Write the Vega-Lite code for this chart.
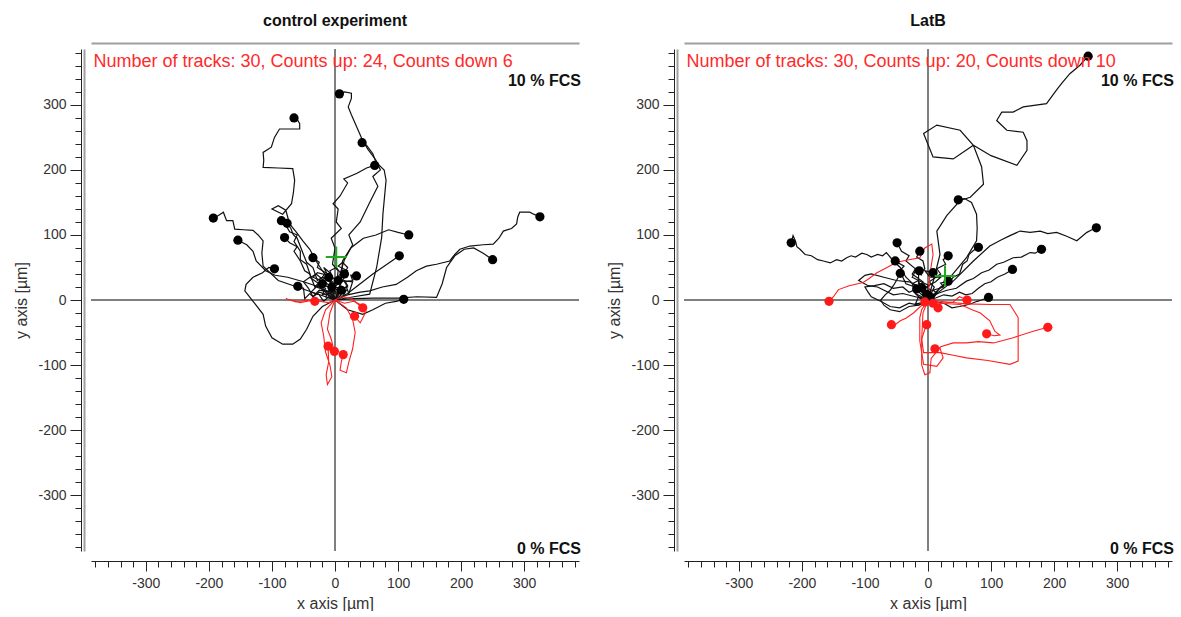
{
"$schema":"https://vega.github.io/schema/vega-lite/v6.json",
"background":"white",
"padding":{"left":13,"top":13,"right":0,"bottom":0},
"config":{"view":{"stroke":null},"font":"Liberation Sans"},
"spacing":105,
"bounds":"flush",
"datasets":{
"cu":[
{"t":1,"x":0,"y":0},{"t":1,"x":5,"y":12},{"t":1,"x":-3,"y":25},{"t":1,"x":8,"y":40},{"t":1,"x":15,"y":62},{"t":1,"x":28,"y":85},{"t":1,"x":22,"y":100},{"t":1,"x":40,"y":120},{"t":1,"x":55,"y":150},{"t":1,"x":68,"y":175},{"t":1,"x":60,"y":190},{"t":1,"x":72,"y":200},{"t":1,"x":65,"y":215},{"t":1,"x":52,"y":232},{"t":1,"x":44,"y":245},{"t":1,"x":35,"y":265},{"t":1,"x":26,"y":285},{"t":1,"x":21,"y":297},{"t":1,"x":26,"y":310},{"t":1,"x":26,"y":318},{"t":1,"x":15,"y":320},{"t":1,"x":7,"y":317},
{"t":2,"x":0,"y":0},{"t":2,"x":-8,"y":29},{"t":2,"x":-20,"y":45},{"t":2,"x":-30,"y":60},{"t":2,"x":-40,"y":78},{"t":2,"x":-51,"y":91},{"t":2,"x":-62,"y":105},{"t":2,"x":-72,"y":117},{"t":2,"x":-78,"y":138},{"t":2,"x":-90,"y":145},{"t":2,"x":-100,"y":140},{"t":2,"x":-83,"y":132},{"t":2,"x":-69,"y":148},{"t":2,"x":-66,"y":165},{"t":2,"x":-64,"y":184},{"t":2,"x":-67,"y":202},{"t":2,"x":-90,"y":203},{"t":2,"x":-114,"y":204},{"t":2,"x":-113,"y":215},{"t":2,"x":-114,"y":227},{"t":2,"x":-101,"y":235},{"t":2,"x":-96,"y":250},{"t":2,"x":-88,"y":263},{"t":2,"x":-70,"y":263},{"t":2,"x":-56,"y":263},{"t":2,"x":-56,"y":271},{"t":2,"x":-60,"y":278},{"t":2,"x":-65,"y":280},
{"t":3,"x":0,"y":0},{"t":3,"x":30,"y":5},{"t":3,"x":55,"y":9},{"t":3,"x":66,"y":50},{"t":3,"x":74,"y":96},{"t":3,"x":76,"y":132},{"t":3,"x":81,"y":184},{"t":3,"x":78,"y":200},{"t":3,"x":65,"y":212},{"t":3,"x":60,"y":225},{"t":3,"x":50,"y":238},{"t":3,"x":43,"y":242},
{"t":4,"x":0,"y":0},{"t":4,"x":-5,"y":20},{"t":4,"x":3,"y":28},{"t":4,"x":5,"y":45},{"t":4,"x":-4,"y":55},{"t":4,"x":0,"y":80},{"t":4,"x":-6,"y":95},{"t":4,"x":10,"y":110},{"t":4,"x":2,"y":120},{"t":4,"x":5,"y":140},{"t":4,"x":-3,"y":148},{"t":4,"x":8,"y":160},{"t":4,"x":20,"y":180},{"t":4,"x":14,"y":186},{"t":4,"x":35,"y":195},{"t":4,"x":50,"y":203},{"t":4,"x":63,"y":207},
{"t":5,"x":0,"y":0},{"t":5,"x":-30,"y":10},{"t":5,"x":-60,"y":20},{"t":5,"x":-90,"y":30},{"t":5,"x":-114,"y":52},{"t":5,"x":-116,"y":72},{"t":5,"x":-114,"y":91},{"t":5,"x":-122,"y":100},{"t":5,"x":-130,"y":107},{"t":5,"x":-145,"y":108},{"t":5,"x":-159,"y":109},{"t":5,"x":-162,"y":122},{"t":5,"x":-172,"y":122},{"t":5,"x":-177,"y":135},{"t":5,"x":-185,"y":130},{"t":5,"x":-193,"y":126},
{"t":6,"x":0,"y":0},{"t":6,"x":20,"y":8},{"t":6,"x":40,"y":12},{"t":6,"x":55,"y":14},{"t":6,"x":75,"y":20},{"t":6,"x":97,"y":24},{"t":6,"x":115,"y":35},{"t":6,"x":129,"y":45},{"t":6,"x":145,"y":52},{"t":6,"x":161,"y":55},{"t":6,"x":182,"y":60},{"t":6,"x":190,"y":70},{"t":6,"x":198,"y":78},{"t":6,"x":214,"y":83},{"t":6,"x":235,"y":85},{"t":6,"x":251,"y":86},{"t":6,"x":260,"y":95},{"t":6,"x":267,"y":106},{"t":6,"x":280,"y":110},{"t":6,"x":288,"y":117},{"t":6,"x":290,"y":128},{"t":6,"x":293,"y":135},{"t":6,"x":309,"y":135},{"t":6,"x":315,"y":132},{"t":6,"x":325,"y":128},
{"t":7,"x":0,"y":0},{"t":7,"x":-25,"y":20},{"t":7,"x":-50,"y":28},{"t":7,"x":-75,"y":35},{"t":7,"x":-95,"y":38},{"t":7,"x":-110,"y":45},{"t":7,"x":-125,"y":60},{"t":7,"x":-130,"y":75},{"t":7,"x":-140,"y":85},{"t":7,"x":-154,"y":92},
{"t":8,"x":0,"y":0},{"t":8,"x":-8,"y":12},{"t":8,"x":-20,"y":15},{"t":8,"x":-15,"y":28},{"t":8,"x":-30,"y":40},{"t":8,"x":-38,"y":35},{"t":8,"x":-45,"y":55},{"t":8,"x":-55,"y":62},{"t":8,"x":-55,"y":75},{"t":8,"x":-65,"y":90},{"t":8,"x":-60,"y":100},{"t":8,"x":-72,"y":105},{"t":8,"x":-78,"y":115},{"t":8,"x":-85,"y":122},
{"t":9,"x":0,"y":0},{"t":9,"x":-10,"y":15},{"t":9,"x":-4,"y":25},{"t":9,"x":-20,"y":35},{"t":9,"x":-28,"y":30},{"t":9,"x":-35,"y":50},{"t":9,"x":-45,"y":58},{"t":9,"x":-50,"y":70},{"t":9,"x":-60,"y":95},{"t":9,"x":-66,"y":100},{"t":9,"x":-70,"y":110},{"t":9,"x":-76,"y":118},
{"t":10,"x":0,"y":0},{"t":10,"x":-12,"y":10},{"t":10,"x":-5,"y":18},{"t":10,"x":-25,"y":25},{"t":10,"x":-32,"y":20},{"t":10,"x":-40,"y":40},{"t":10,"x":-48,"y":45},{"t":10,"x":-55,"y":60},{"t":10,"x":-65,"y":75},{"t":10,"x":-60,"y":82},{"t":10,"x":-72,"y":88},{"t":10,"x":-80,"y":96},
{"t":11,"x":0,"y":0},{"t":11,"x":10,"y":30},{"t":11,"x":12,"y":60},{"t":11,"x":25,"y":80},{"t":11,"x":45,"y":95},{"t":11,"x":65,"y":100},{"t":11,"x":85,"y":108},{"t":11,"x":100,"y":104},{"t":11,"x":117,"y":100},
{"t":12,"x":0,"y":0},{"t":12,"x":20,"y":10},{"t":12,"x":40,"y":25},{"t":12,"x":60,"y":40},{"t":12,"x":75,"y":50},{"t":12,"x":90,"y":60},{"t":12,"x":102,"y":68},
{"t":13,"x":0,"y":0},{"t":13,"x":30,"y":2},{"t":13,"x":60,"y":3},{"t":13,"x":100,"y":3},{"t":13,"x":130,"y":5},{"t":13,"x":161,"y":4},{"t":13,"x":170,"y":25},{"t":13,"x":177,"y":50},{"t":13,"x":190,"y":68},{"t":13,"x":205,"y":78},{"t":13,"x":220,"y":80},{"t":13,"x":235,"y":72},{"t":13,"x":250,"y":62},
{"t":14,"x":0,"y":0},{"t":14,"x":-20,"y":-10},{"t":14,"x":-35,"y":-25},{"t":14,"x":-45,"y":-45},{"t":14,"x":-55,"y":-60},{"t":14,"x":-67,"y":-68},{"t":14,"x":-83,"y":-68},{"t":14,"x":-100,"y":-58},{"t":14,"x":-110,"y":-40},{"t":14,"x":-114,"y":-22},{"t":14,"x":-130,"y":-2},{"t":14,"x":-143,"y":14},{"t":14,"x":-141,"y":24},{"t":14,"x":-130,"y":35},{"t":14,"x":-115,"y":42},{"t":14,"x":-105,"y":50},{"t":14,"x":-96,"y":48},
{"t":15,"x":0,"y":0},{"t":15,"x":-15,"y":5},{"t":15,"x":-10,"y":12},{"t":15,"x":-25,"y":15},{"t":15,"x":-35,"y":5},{"t":15,"x":-40,"y":10},{"t":15,"x":-48,"y":2},{"t":15,"x":-50,"y":18},{"t":15,"x":-59,"y":21},
{"t":16,"x":0,"y":0},{"t":16,"x":10,"y":8},{"t":16,"x":4,"y":15},{"t":16,"x":20,"y":20},{"t":16,"x":15,"y":28},{"t":16,"x":28,"y":30},{"t":16,"x":25,"y":38},{"t":16,"x":34,"y":37},
{"t":17,"x":0,"y":0},{"t":17,"x":20,"y":-15},{"t":17,"x":44,"y":-22},{"t":17,"x":60,"y":-15},{"t":17,"x":80,"y":-5},{"t":17,"x":97,"y":-2},{"t":17,"x":109,"y":1},
{"t":18,"x":0,"y":0},{"t":18,"x":-10,"y":20},{"t":18,"x":-4,"y":28},{"t":18,"x":-20,"y":35},{"t":18,"x":-15,"y":42},{"t":18,"x":-28,"y":50},{"t":18,"x":-25,"y":58},{"t":18,"x":-35,"y":65},
{"t":19,"x":0,"y":0},{"t":19,"x":-8,"y":10},{"t":19,"x":-20,"y":8},{"t":19,"x":-15,"y":18},{"t":19,"x":-30,"y":22},{"t":19,"x":-22,"y":30},{"t":19,"x":-35,"y":35},{"t":19,"x":-28,"y":42},{"t":19,"x":-12,"y":38},{"t":19,"x":-5,"y":25},{"t":19,"x":-15,"y":45},{"t":19,"x":-18,"y":50},{"t":19,"x":-8,"y":42},{"t":19,"x":-10,"y":35},
{"t":20,"x":0,"y":0},{"t":20,"x":6,"y":8},{"t":20,"x":-6,"y":12},{"t":20,"x":-2,"y":20},{"t":20,"x":10,"y":18},{"t":20,"x":8,"y":28},{"t":20,"x":-4,"y":34},{"t":20,"x":-8,"y":45},{"t":20,"x":2,"y":50},{"t":20,"x":10,"y":40},{"t":20,"x":5,"y":30},
{"t":21,"x":0,"y":0},{"t":21,"x":-10,"y":5},{"t":21,"x":-18,"y":-2},{"t":21,"x":-25,"y":8},{"t":21,"x":-38,"y":12},{"t":21,"x":-30,"y":20},{"t":21,"x":-12,"y":14},{"t":21,"x":0,"y":12},{"t":21,"x":-8,"y":22},{"t":21,"x":-20,"y":30},{"t":21,"x":-5,"y":20},
{"t":22,"x":0,"y":0},{"t":22,"x":12,"y":5},{"t":22,"x":18,"y":15},{"t":22,"x":5,"y":10},{"t":22,"x":-5,"y":18},{"t":22,"x":4,"y":24},{"t":22,"x":15,"y":30},{"t":22,"x":20,"y":22},{"t":22,"x":10,"y":15},
{"t":23,"x":0,"y":0},{"t":23,"x":-12,"y":8},{"t":23,"x":-25,"y":12},{"t":23,"x":-35,"y":5},{"t":23,"x":-42,"y":18},{"t":23,"x":-50,"y":28},{"t":23,"x":-40,"y":35},{"t":23,"x":-30,"y":28},{"t":23,"x":-18,"y":20},{"t":23,"x":-25,"y":32},{"t":23,"x":-20,"y":25},
{"t":24,"x":0,"y":0},{"t":24,"x":8,"y":15},{"t":24,"x":18,"y":20},{"t":24,"x":22,"y":10},{"t":24,"x":28,"y":28},{"t":24,"x":12,"y":30},{"t":24,"x":20,"y":45},{"t":24,"x":5,"y":52},{"t":24,"x":12,"y":58},{"t":24,"x":20,"y":50},{"t":24,"x":15,"y":40}
],
"cue":[{"x":7,"y":317},{"x":-65,"y":280},{"x":43,"y":242},{"x":63,"y":207},{"x":-193,"y":126},{"x":325,"y":128},{"x":-154,"y":92},{"x":-85,"y":122},{"x":-76,"y":118},{"x":-80,"y":96},{"x":117,"y":100},{"x":102,"y":68},{"x":250,"y":62},{"x":-96,"y":48},{"x":-59,"y":21},{"x":34,"y":37},{"x":109,"y":1},{"x":-35,"y":65},{"x":-10,"y":35},{"x":5,"y":30},{"x":-5,"y":20},{"x":10,"y":15},{"x":-20,"y":25},{"x":15,"y":40}],
"cd":[
{"t":1,"x":0,"y":0},{"t":1,"x":-10,"y":-4},{"t":1,"x":-25,"y":-2},{"t":1,"x":-45,"y":0},{"t":1,"x":-62,"y":-3},{"t":1,"x":-78,"y":2},{"t":1,"x":-70,"y":0},{"t":1,"x":-55,"y":-4},{"t":1,"x":-40,"y":-1},{"t":1,"x":-32,"y":-2},
{"t":2,"x":0,"y":0},{"t":2,"x":-15,"y":-15},{"t":2,"x":-22,"y":-35},{"t":2,"x":-18,"y":-55},{"t":2,"x":-15,"y":-80},{"t":2,"x":-8,"y":-100},{"t":2,"x":-5,"y":-118},{"t":2,"x":-12,"y":-130},{"t":2,"x":-14,"y":-115},{"t":2,"x":-10,"y":-95},{"t":2,"x":-11,"y":-71},
{"t":3,"x":0,"y":0},{"t":3,"x":18,"y":-12},{"t":3,"x":28,"y":-30},{"t":3,"x":32,"y":-50},{"t":3,"x":28,"y":-75},{"t":3,"x":22,"y":-95},{"t":3,"x":18,"y":-112},{"t":3,"x":8,"y":-108},{"t":3,"x":10,"y":-95},{"t":3,"x":13,"y":-84},
{"t":4,"x":0,"y":0},{"t":4,"x":-8,"y":-20},{"t":4,"x":-12,"y":-45},{"t":4,"x":-6,"y":-60},{"t":4,"x":-3,"y":-72},{"t":4,"x":-1,"y":-79},
{"t":5,"x":0,"y":0},{"t":5,"x":15,"y":-5},{"t":5,"x":30,"y":-2},{"t":5,"x":42,"y":-8},{"t":5,"x":48,"y":-20},{"t":5,"x":40,"y":-35},{"t":5,"x":31,"y":-25},
{"t":6,"x":0,"y":0},{"t":6,"x":10,"y":5},{"t":6,"x":25,"y":3},{"t":6,"x":35,"y":-5},{"t":6,"x":50,"y":-18},{"t":6,"x":44,"y":-12}
],
"cde":[{"x":-32,"y":-2},{"x":-11,"y":-71},{"x":13,"y":-84},{"x":-1,"y":-79},{"x":31,"y":-25},{"x":44,"y":-12}],
"lu":[
{"t":1,"x":0,"y":0},{"t":1,"x":10,"y":35},{"t":1,"x":19,"y":70},{"t":1,"x":14,"y":106},{"t":1,"x":30,"y":130},{"t":1,"x":51,"y":153},{"t":1,"x":67,"y":158},{"t":1,"x":88,"y":178},{"t":1,"x":85,"y":205},{"t":1,"x":72,"y":238},{"t":1,"x":51,"y":261},{"t":1,"x":14,"y":269},{"t":1,"x":-7,"y":256},{"t":1,"x":8,"y":220},{"t":1,"x":40,"y":217},{"t":1,"x":72,"y":238},{"t":1,"x":100,"y":222},{"t":1,"x":141,"y":207},{"t":1,"x":157,"y":230},{"t":1,"x":157,"y":245},{"t":1,"x":151,"y":258},{"t":1,"x":125,"y":261},{"t":1,"x":109,"y":276},{"t":1,"x":117,"y":289},{"t":1,"x":135,"y":289},{"t":1,"x":151,"y":297},{"t":1,"x":188,"y":302},{"t":1,"x":204,"y":323},{"t":1,"x":212,"y":333},{"t":1,"x":225,"y":348},{"t":1,"x":241,"y":361},{"t":1,"x":254,"y":375},
{"t":2,"x":0,"y":0},{"t":2,"x":30,"y":29},{"t":2,"x":61,"y":65},{"t":2,"x":77,"y":91},{"t":2,"x":78,"y":110},{"t":2,"x":77,"y":132},{"t":2,"x":69,"y":150},{"t":2,"x":58,"y":156},{"t":2,"x":48,"y":154},
{"t":3,"x":0,"y":0},{"t":3,"x":40,"y":29},{"t":3,"x":72,"y":60},{"t":3,"x":98,"y":83},{"t":3,"x":115,"y":92},{"t":3,"x":130,"y":99},{"t":3,"x":146,"y":106},{"t":3,"x":162,"y":104},{"t":3,"x":178,"y":106},{"t":3,"x":190,"y":102},{"t":3,"x":204,"y":104},{"t":3,"x":220,"y":98},{"t":3,"x":236,"y":91},{"t":3,"x":252,"y":104},{"t":3,"x":260,"y":108},{"t":3,"x":267,"y":111},
{"t":4,"x":0,"y":0},{"t":4,"x":-12,"y":10},{"t":4,"x":-23,"y":24},{"t":4,"x":-35,"y":35},{"t":4,"x":-44,"y":50},{"t":4,"x":-55,"y":60},{"t":4,"x":-66,"y":73},{"t":4,"x":-72,"y":68},{"t":4,"x":-80,"y":70},{"t":4,"x":-90,"y":66},{"t":4,"x":-97,"y":70},{"t":4,"x":-105,"y":72},{"t":4,"x":-115,"y":66},{"t":4,"x":-122,"y":68},{"t":4,"x":-129,"y":65},{"t":4,"x":-137,"y":60},{"t":4,"x":-145,"y":62},{"t":4,"x":-155,"y":57},{"t":4,"x":-166,"y":60},{"t":4,"x":-175,"y":62},{"t":4,"x":-185,"y":68},{"t":4,"x":-195,"y":70},{"t":4,"x":-203,"y":78},{"t":4,"x":-208,"y":82},{"t":4,"x":-210,"y":90},{"t":4,"x":-214,"y":99},{"t":4,"x":-217,"y":88},
{"t":5,"x":0,"y":0},{"t":5,"x":-15,"y":20},{"t":5,"x":-8,"y":28},{"t":5,"x":-25,"y":40},{"t":5,"x":-20,"y":48},{"t":5,"x":-35,"y":60},{"t":5,"x":-30,"y":68},{"t":5,"x":-42,"y":75},{"t":5,"x":-49,"y":88},
{"t":6,"x":0,"y":0},{"t":6,"x":12,"y":10},{"t":6,"x":20,"y":20},{"t":6,"x":32,"y":25},{"t":6,"x":40,"y":35},{"t":6,"x":50,"y":40},{"t":6,"x":55,"y":55},{"t":6,"x":62,"y":60},{"t":6,"x":65,"y":70},{"t":6,"x":72,"y":76},{"t":6,"x":80,"y":81},
{"t":7,"x":0,"y":0},{"t":7,"x":15,"y":10},{"t":7,"x":30,"y":15},{"t":7,"x":45,"y":18},{"t":7,"x":61,"y":29},{"t":7,"x":72,"y":33},{"t":7,"x":85,"y":42},{"t":7,"x":97,"y":46},{"t":7,"x":109,"y":55},{"t":7,"x":120,"y":58},{"t":7,"x":135,"y":65},{"t":7,"x":148,"y":66},{"t":7,"x":162,"y":73},{"t":7,"x":170,"y":72},{"t":7,"x":180,"y":78},
{"t":8,"x":0,"y":0},{"t":8,"x":-5,"y":20},{"t":8,"x":-15,"y":25},{"t":8,"x":-15,"y":40},{"t":8,"x":-5,"y":48},{"t":8,"x":-8,"y":60},{"t":8,"x":-18,"y":66},{"t":8,"x":-13,"y":75},
{"t":9,"x":0,"y":0},{"t":9,"x":10,"y":20},{"t":9,"x":2,"y":28},{"t":9,"x":20,"y":40},{"t":9,"x":14,"y":48},{"t":9,"x":28,"y":55},{"t":9,"x":24,"y":62},{"t":9,"x":32,"y":68},
{"t":10,"x":0,"y":0},{"t":10,"x":-20,"y":10},{"t":10,"x":-15,"y":18},{"t":10,"x":-35,"y":25},{"t":10,"x":-40,"y":35},{"t":10,"x":-45,"y":45},{"t":10,"x":-38,"y":52},{"t":10,"x":-52,"y":60},
{"t":11,"x":0,"y":0},{"t":11,"x":-15,"y":-8},{"t":11,"x":-30,"y":-10},{"t":11,"x":-45,"y":-18},{"t":11,"x":-60,"y":-15},{"t":11,"x":-70,"y":-8},{"t":11,"x":-75,"y":0},{"t":11,"x":-68,"y":8},{"t":11,"x":-60,"y":15},{"t":11,"x":-55,"y":22},{"t":11,"x":-50,"y":30},{"t":11,"x":-44,"y":41},
{"t":12,"x":0,"y":0},{"t":12,"x":-8,"y":15},{"t":12,"x":2,"y":22},{"t":12,"x":-15,"y":30},{"t":12,"x":-25,"y":35},{"t":12,"x":-20,"y":45},{"t":12,"x":-10,"y":38},{"t":12,"x":-14,"y":45},
{"t":13,"x":0,"y":0},{"t":13,"x":5,"y":15},{"t":13,"x":-3,"y":20},{"t":13,"x":12,"y":28},{"t":13,"x":20,"y":35},{"t":13,"x":3,"y":35},{"t":13,"x":-5,"y":45},{"t":13,"x":8,"y":42},
{"t":14,"x":0,"y":0},{"t":14,"x":12,"y":3},{"t":14,"x":25,"y":8},{"t":14,"x":38,"y":6},{"t":14,"x":50,"y":12},{"t":14,"x":60,"y":8},{"t":14,"x":70,"y":10},{"t":14,"x":80,"y":18},{"t":14,"x":90,"y":25},{"t":14,"x":100,"y":28},{"t":14,"x":110,"y":35},{"t":14,"x":122,"y":40},{"t":14,"x":134,"y":47},
{"t":15,"x":0,"y":0},{"t":15,"x":15,"y":10},{"t":15,"x":8,"y":15},{"t":15,"x":25,"y":20},{"t":15,"x":20,"y":26},{"t":15,"x":32,"y":29},
{"t":16,"x":0,"y":0},{"t":16,"x":-15,"y":-8},{"t":16,"x":-30,"y":-5},{"t":16,"x":-45,"y":-12},{"t":16,"x":-60,"y":-10},{"t":16,"x":-75,"y":-2},{"t":16,"x":-90,"y":5},{"t":16,"x":-95,"y":12},{"t":16,"x":-100,"y":20},{"t":16,"x":-85,"y":22},{"t":16,"x":-70,"y":25},{"t":16,"x":-55,"y":18},{"t":16,"x":-40,"y":20},{"t":16,"x":-30,"y":12},{"t":16,"x":-18,"y":17},
{"t":17,"x":0,"y":0},{"t":17,"x":-5,"y":5},{"t":17,"x":-12,"y":2},{"t":17,"x":-20,"y":10},{"t":17,"x":-25,"y":25},{"t":17,"x":-15,"y":30},{"t":17,"x":-10,"y":12},{"t":17,"x":-2,"y":9},
{"t":18,"x":0,"y":0},{"t":18,"x":12,"y":-3},{"t":18,"x":25,"y":-5},{"t":18,"x":38,"y":-12},{"t":18,"x":50,"y":-10},{"t":18,"x":60,"y":-8},{"t":18,"x":70,"y":-5},{"t":18,"x":78,"y":-2},{"t":18,"x":85,"y":0},{"t":18,"x":96,"y":4},
{"t":19,"x":0,"y":0},{"t":19,"x":-20,"y":5},{"t":19,"x":-40,"y":10},{"t":19,"x":-55,"y":8},{"t":19,"x":-80,"y":20},{"t":19,"x":-95,"y":22},{"t":19,"x":-110,"y":30},{"t":19,"x":-100,"y":38},{"t":19,"x":-90,"y":40},{"t":19,"x":-70,"y":35},{"t":19,"x":-50,"y":30},{"t":19,"x":-30,"y":28},{"t":19,"x":-10,"y":19},
{"t":20,"x":0,"y":0},{"t":20,"x":-4,"y":3},{"t":20,"x":-8,"y":-4},{"t":20,"x":-20,"y":-6},{"t":20,"x":-15,"y":5},{"t":20,"x":5,"y":-3},{"t":20,"x":12,"y":8},{"t":20,"x":3,"y":5}
],
"lue":[{"x":254,"y":375},{"x":48,"y":154},{"x":267,"y":111},{"x":-217,"y":88},{"x":-49,"y":88},{"x":80,"y":81},{"x":180,"y":78},{"x":-13,"y":75},{"x":32,"y":68},{"x":-52,"y":60},{"x":-44,"y":41},{"x":-14,"y":45},{"x":8,"y":42},{"x":134,"y":47},{"x":32,"y":29},{"x":-18,"y":17},{"x":-2,"y":9},{"x":96,"y":4},{"x":-10,"y":19},{"x":3,"y":5}],
"ld":[
{"t":1,"x":0,"y":0},{"t":1,"x":3,"y":40},{"t":1,"x":8,"y":70},{"t":1,"x":6,"y":86},{"t":1,"x":-5,"y":80},{"t":1,"x":-13,"y":65},{"t":1,"x":-30,"y":62},{"t":1,"x":-50,"y":58},{"t":1,"x":-65,"y":50},{"t":1,"x":-81,"y":42},{"t":1,"x":-95,"y":32},{"t":1,"x":-103,"y":27},{"t":1,"x":-125,"y":22},{"t":1,"x":-142,"y":16},{"t":1,"x":-150,"y":5},{"t":1,"x":-157,"y":-2},
{"t":2,"x":0,"y":0},{"t":2,"x":-12,"y":-10},{"t":2,"x":-23,"y":-20},{"t":2,"x":-35,"y":-28},{"t":2,"x":-44,"y":-32},{"t":2,"x":-52,"y":-38},{"t":2,"x":-58,"y":-38},
{"t":3,"x":0,"y":0},{"t":3,"x":30,"y":-3},{"t":3,"x":60,"y":-6},{"t":3,"x":100,"y":-7},{"t":3,"x":130,"y":-7},{"t":3,"x":143,"y":-27},{"t":3,"x":143,"y":-60},{"t":3,"x":143,"y":-94},{"t":3,"x":130,"y":-99},{"t":3,"x":95,"y":-93},{"t":3,"x":61,"y":-89},{"t":3,"x":40,"y":-85},{"t":3,"x":19,"y":-81},{"t":3,"x":-7,"y":-81},{"t":3,"x":-10,"y":-60},{"t":3,"x":-5,"y":-45},{"t":3,"x":-2,"y":-38},
{"t":4,"x":0,"y":0},{"t":4,"x":-10,"y":-15},{"t":4,"x":-13,"y":-27},{"t":4,"x":-13,"y":-50},{"t":4,"x":-13,"y":-63},{"t":4,"x":-7,"y":-99},{"t":4,"x":14,"y":-102},{"t":4,"x":24,"y":-89},{"t":4,"x":19,"y":-74},{"t":4,"x":11,"y":-75},
{"t":5,"x":0,"y":0},{"t":5,"x":20,"y":-5},{"t":5,"x":51,"y":-7},{"t":5,"x":70,"y":-15},{"t":5,"x":83,"y":-20},{"t":5,"x":98,"y":-32},{"t":5,"x":106,"y":-48},{"t":5,"x":114,"y":-54},{"t":5,"x":105,"y":-55},{"t":5,"x":93,"y":-52},
{"t":6,"x":0,"y":0},{"t":6,"x":-8,"y":-20},{"t":6,"x":-10,"y":-60},{"t":6,"x":-10,"y":-100},{"t":6,"x":-5,"y":-115},{"t":6,"x":3,"y":-112},{"t":6,"x":5,"y":-90},{"t":6,"x":20,"y":-72},{"t":6,"x":40,"y":-66},{"t":6,"x":61,"y":-66},{"t":6,"x":80,"y":-64},{"t":6,"x":104,"y":-66},{"t":6,"x":135,"y":-58},{"t":6,"x":167,"y":-48},{"t":6,"x":190,"y":-42},
{"t":7,"x":0,"y":0},{"t":7,"x":20,"y":-5},{"t":7,"x":40,"y":-3},{"t":7,"x":50,"y":5},{"t":7,"x":62,"y":0},
{"t":8,"x":0,"y":0},{"t":8,"x":8,"y":-5},{"t":8,"x":12,"y":-15},{"t":8,"x":16,"y":-12},
{"t":9,"x":0,"y":0},{"t":9,"x":4,"y":-8},{"t":9,"x":8,"y":-5},
{"t":10,"x":0,"y":0},{"t":10,"x":-8,"y":-6},{"t":10,"x":-5,"y":-3}
],
"lde":[{"x":-157,"y":-2},{"x":-58,"y":-38},{"x":-2,"y":-38},{"x":11,"y":-75},{"x":93,"y":-52},{"x":190,"y":-42},{"x":62,"y":0},{"x":16,"y":-12},{"x":8,"y":-5},{"x":-5,"y":-3}],
"one":[{}]
},
"hconcat":[
{
"width":488,"height":502,
"title":{"text":"control experiment","frame":"group","anchor":"middle","fontSize":16,"fontWeight":"bold","font":"Liberation Sans","color":"#111","offset":14},
"resolve":{"axis":{"x":"independent","y":"independent"}},
"layer":[
{"data":{"name":"one"},"mark":{"type":"rule","color":"#000","strokeWidth":1},"encoding":{"x":{"datum":0,"type":"quantitative","scale":{"domain":[-387,387],"nice":false,"zero":false},"axis":{"orient":"top","offset":6,"ticks":false,"labels":false,"title":null,"grid":false,"domainColor":"#a0a0a0","domainWidth":2}}}},
{"data":{"name":"one"},"mark":{"type":"rule","color":"#000","strokeWidth":1},"encoding":{"y":{"datum":0,"type":"quantitative","scale":{"domain":[-386,386],"nice":false,"zero":false},"axis":{"orient":"left","offset":7,"ticks":false,"labels":false,"title":null,"grid":false,"domainColor":"#a0a0a0","domainWidth":2}}}},
{"data":{"name":"cu"},"mark":{"type":"line","color":"#111","strokeWidth":1.2},"encoding":{
"x":{"field":"x","type":"quantitative","scale":{"domain":[-387,387],"nice":false,"zero":false},"axis":{"orient":"bottom","offset":10,"values":[-300,-200,-100,0,100,200,300],"labelExpr":"'' + datum.value","tickSize":10,"tickColor":"#222","domainColor":"#222","labelFont":"Liberation Sans","labelFontSize":14,"labelColor":"#333","labelPadding":5,"labelOverlap":false,"labelFlush":false,"title":"x axis [µm]","titleFont":"Liberation Sans","titleFontSize":16,"titleFontWeight":"normal","titleColor":"#333","titlePadding":5,"grid":false}},
"y":{"field":"y","type":"quantitative","scale":{"domain":[-386,386],"nice":false,"zero":false},"axis":{"orient":"left","offset":10,"values":[-300,-200,-100,0,100,200,300],"labelExpr":"'' + datum.value","tickSize":11,"tickColor":"#222","domainColor":"#222","labelFont":"Liberation Sans","labelFontSize":14,"labelColor":"#333","labelPadding":4,"labelOverlap":false,"labelFlush":false,"title":"y axis [µm]","titleFont":"Liberation Sans","titleFontSize":16,"titleFontWeight":"normal","titleColor":"#333","titlePadding":8,"grid":false}},
"detail":{"field":"t","type":"nominal"},"order":{"value":null}}},
{"data":{"name":"cd"},"mark":{"type":"line","color":"#ff2020","strokeWidth":1.1},"encoding":{
"x":{"field":"x","type":"quantitative","scale":{"domain":[-387,387],"nice":false,"zero":false},"axis":{"orient":"bottom","offset":10,"values":[-380,-360,-340,-320,-280,-260,-240,-220,-180,-160,-140,-120,-80,-60,-40,-20,20,40,60,80,120,140,160,180,220,240,260,280,320,340,360,380],"tickSize":6,"tickColor":"#222","domain":false,"labels":false,"title":null,"grid":false}},
"y":{"field":"y","type":"quantitative","scale":{"domain":[-386,386],"nice":false,"zero":false},"axis":{"orient":"left","offset":10,"values":[-380,-360,-340,-320,-280,-260,-240,-220,-180,-160,-140,-120,-80,-60,-40,-20,20,40,60,80,120,140,160,180,220,240,260,280,320,340,360,380],"tickSize":6,"tickColor":"#222","domain":false,"labels":false,"title":null,"grid":false}},
"detail":{"field":"t","type":"nominal"},"order":{"value":null}}},
{"data":{"name":"cue"},"mark":{"type":"circle","size":85,"color":"#000","opacity":1},"encoding":{"x":{"field":"x","type":"quantitative","axis":null},"y":{"field":"y","type":"quantitative","axis":null}}},
{"data":{"name":"cde"},"mark":{"type":"circle","size":85,"color":"#ff1a1a","opacity":1},"encoding":{"x":{"field":"x","type":"quantitative","axis":null},"y":{"field":"y","type":"quantitative","axis":null}}},
{"data":{"name":"one"},"mark":{"type":"point","shape":"M-1,0H1M0,-1V1","size":440,"filled":false,"stroke":"#22a822","strokeWidth":2,"opacity":1},"encoding":{"x":{"datum":2,"type":"quantitative","axis":null},"y":{"datum":66,"type":"quantitative","axis":null}}},
{"data":{"name":"one"},"mark":{"type":"text","text":"Number of tracks: 30, Counts up: 24, Counts down 6","align":"left","baseline":"middle","fontSize":18,"font":"Liberation Sans","color":"#ff2a2a"},"encoding":{"x":{"datum":-383,"type":"quantitative","axis":null},"y":{"datum":366,"type":"quantitative","axis":null}}},
{"data":{"name":"one"},"mark":{"type":"text","text":"10 % FCS","align":"right","baseline":"middle","fontSize":16,"fontWeight":"bold","font":"Liberation Sans","color":"#111"},"encoding":{"x":{"datum":390,"type":"quantitative","axis":null},"y":{"datum":337,"type":"quantitative","axis":null}}},
{"data":{"name":"one"},"mark":{"type":"text","text":"0 % FCS","align":"right","baseline":"middle","fontSize":16,"fontWeight":"bold","font":"Liberation Sans","color":"#111"},"encoding":{"x":{"datum":390,"type":"quantitative","axis":null},"y":{"datum":-383,"type":"quantitative","axis":null}}}
]
},
{
"width":488,"height":502,
"title":{"text":"LatB","frame":"group","anchor":"middle","fontSize":16,"fontWeight":"bold","font":"Liberation Sans","color":"#111","offset":14},
"resolve":{"axis":{"x":"independent","y":"independent"}},
"layer":[
{"data":{"name":"one"},"mark":{"type":"rule","color":"#000","strokeWidth":1},"encoding":{"x":{"datum":0,"type":"quantitative","scale":{"domain":[-387,387],"nice":false,"zero":false},"axis":{"orient":"top","offset":6,"ticks":false,"labels":false,"title":null,"grid":false,"domainColor":"#a0a0a0","domainWidth":2}}}},
{"data":{"name":"one"},"mark":{"type":"rule","color":"#000","strokeWidth":1},"encoding":{"y":{"datum":0,"type":"quantitative","scale":{"domain":[-386,386],"nice":false,"zero":false},"axis":{"orient":"left","offset":7,"ticks":false,"labels":false,"title":null,"grid":false,"domainColor":"#a0a0a0","domainWidth":2}}}},
{"data":{"name":"lu"},"mark":{"type":"line","color":"#111","strokeWidth":1.2},"encoding":{
"x":{"field":"x","type":"quantitative","scale":{"domain":[-387,387],"nice":false,"zero":false},"axis":{"orient":"bottom","offset":10,"values":[-300,-200,-100,0,100,200,300],"labelExpr":"'' + datum.value","tickSize":10,"tickColor":"#222","domainColor":"#222","labelFont":"Liberation Sans","labelFontSize":14,"labelColor":"#333","labelPadding":5,"labelOverlap":false,"labelFlush":false,"title":"x axis [µm]","titleFont":"Liberation Sans","titleFontSize":16,"titleFontWeight":"normal","titleColor":"#333","titlePadding":5,"grid":false}},
"y":{"field":"y","type":"quantitative","scale":{"domain":[-386,386],"nice":false,"zero":false},"axis":{"orient":"left","offset":10,"values":[-300,-200,-100,0,100,200,300],"labelExpr":"'' + datum.value","tickSize":11,"tickColor":"#222","domainColor":"#222","labelFont":"Liberation Sans","labelFontSize":14,"labelColor":"#333","labelPadding":4,"labelOverlap":false,"labelFlush":false,"title":"y axis [µm]","titleFont":"Liberation Sans","titleFontSize":16,"titleFontWeight":"normal","titleColor":"#333","titlePadding":8,"grid":false}},
"detail":{"field":"t","type":"nominal"},"order":{"value":null}}},
{"data":{"name":"ld"},"mark":{"type":"line","color":"#ff2020","strokeWidth":1.1},"encoding":{
"x":{"field":"x","type":"quantitative","scale":{"domain":[-387,387],"nice":false,"zero":false},"axis":{"orient":"bottom","offset":10,"values":[-380,-360,-340,-320,-280,-260,-240,-220,-180,-160,-140,-120,-80,-60,-40,-20,20,40,60,80,120,140,160,180,220,240,260,280,320,340,360,380],"tickSize":6,"tickColor":"#222","domain":false,"labels":false,"title":null,"grid":false}},
"y":{"field":"y","type":"quantitative","scale":{"domain":[-386,386],"nice":false,"zero":false},"axis":{"orient":"left","offset":10,"values":[-380,-360,-340,-320,-280,-260,-240,-220,-180,-160,-140,-120,-80,-60,-40,-20,20,40,60,80,120,140,160,180,220,240,260,280,320,340,360,380],"tickSize":6,"tickColor":"#222","domain":false,"labels":false,"title":null,"grid":false}},
"detail":{"field":"t","type":"nominal"},"order":{"value":null}}},
{"data":{"name":"lue"},"mark":{"type":"circle","size":85,"color":"#000","opacity":1},"encoding":{"x":{"field":"x","type":"quantitative","axis":null},"y":{"field":"y","type":"quantitative","axis":null}}},
{"data":{"name":"lde"},"mark":{"type":"circle","size":85,"color":"#ff1a1a","opacity":1},"encoding":{"x":{"field":"x","type":"quantitative","axis":null},"y":{"field":"y","type":"quantitative","axis":null}}},
{"data":{"name":"one"},"mark":{"type":"point","shape":"M-1,0H1M0,-1V1","size":440,"filled":false,"stroke":"#22a822","strokeWidth":2,"opacity":1},"encoding":{"x":{"datum":27,"type":"quantitative","axis":null},"y":{"datum":37,"type":"quantitative","axis":null}}},
{"data":{"name":"one"},"mark":{"type":"text","text":"Number of tracks: 30, Counts up: 20, Counts down 10","align":"left","baseline":"middle","fontSize":18,"font":"Liberation Sans","color":"#ff2a2a"},"encoding":{"x":{"datum":-383,"type":"quantitative","axis":null},"y":{"datum":366,"type":"quantitative","axis":null}}},
{"data":{"name":"one"},"mark":{"type":"text","text":"10 % FCS","align":"right","baseline":"middle","fontSize":16,"fontWeight":"bold","font":"Liberation Sans","color":"#111"},"encoding":{"x":{"datum":390,"type":"quantitative","axis":null},"y":{"datum":337,"type":"quantitative","axis":null}}},
{"data":{"name":"one"},"mark":{"type":"text","text":"0 % FCS","align":"right","baseline":"middle","fontSize":16,"fontWeight":"bold","font":"Liberation Sans","color":"#111"},"encoding":{"x":{"datum":390,"type":"quantitative","axis":null},"y":{"datum":-383,"type":"quantitative","axis":null}}}
]
}
]
}
